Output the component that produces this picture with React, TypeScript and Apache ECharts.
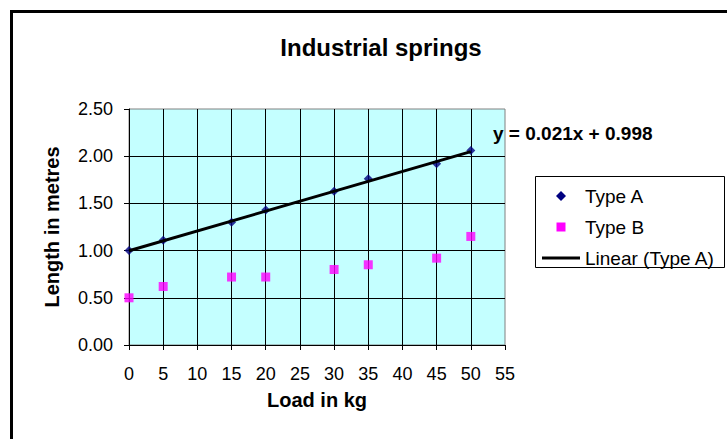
import React, { useEffect, useRef } from "react";
import * as echarts from "echarts";

const loadKg = [0, 5, 15, 20, 30, 35, 45, 50];
const typeA = [1.0, 1.11, 1.3, 1.43, 1.63, 1.76, 1.92, 2.06];
const typeB = [0.5, 0.62, 0.72, 0.72, 0.8, 0.85, 0.92, 1.15];
const trendX = [0, 50];
const trendY = [0.998, 2.048];
const equation = "y = 0.021x + 0.998";
const titleText = "Industrial springs";
const xTitle = "Load in kg";
const yTitle = "Length in metres";
const seriesNames = ["Type A", "Type B", "Linear (Type A)"];

const FONT = '"Liberation Sans", Arial, sans-serif';
const COLOR_A = "#000080";
const COLOR_B = "#FF00FF";

export default function App() {
  const ref = useRef<HTMLDivElement>(null);
  useEffect(() => {
    if (!ref.current) return;
    const chart = echarts.init(ref.current, undefined, { renderer: "svg" });
    const axisLine = { show: true, lineStyle: { color: "#000", width: 1 } };
    const legendX = 535;
    const legendY = 176;
    const rowY = [196, 227, 258];
    const iconCx = 561;
    const textX = 585;
    const legendText = (i: number) => ({
      type: "text",
      x: textX,
      y: rowY[i],
      style: {
        text: seriesNames[i],
        fontFamily: FONT,
        fontSize: 19,
        fill: "#000",
        verticalAlign: "middle",
      },
      z: 11,
    });
    chart.setOption({
      animation: false,
      backgroundColor: "#fff",
      textStyle: { fontFamily: FONT },
      title: {
        text: titleText,
        left: 376,
        top: 30,
        textAlign: "center",
        textStyle: { fontFamily: FONT, fontSize: 24, fontWeight: "bold", color: "#000" },
      },
      grid: {
        left: 129,
        top: 109,
        width: 376,
        height: 236,
        show: true,
        backgroundColor: "#C4FFFF",
        borderColor: "#808080",
        borderWidth: 1,
      },
      xAxis: {
        type: "value",
        min: 0,
        max: 55,
        interval: 5,
        name: xTitle,
        nameLocation: "middle",
        nameGap: 45,
        nameTextStyle: { fontFamily: FONT, fontSize: 20, fontWeight: "bold", color: "#000" },
        axisLine,
        axisTick: { show: true, inside: false, length: 5, lineStyle: { color: "#000" } },
        axisLabel: { fontFamily: FONT, fontSize: 18, color: "#000", margin: 20 },
        splitLine: { show: true, showMaxLine: false, lineStyle: { color: "#000", width: 1 } },
      },
      yAxis: {
        type: "value",
        min: 0,
        max: 2.5,
        interval: 0.5,
        name: yTitle,
        nameLocation: "middle",
        nameGap: 67,
        nameTextStyle: { fontFamily: FONT, fontSize: 20, fontWeight: "bold", color: "#000" },
        axisLine,
        axisTick: { show: true, inside: false, length: 5, lineStyle: { color: "#000" } },
        axisLabel: {
          fontFamily: FONT,
          fontSize: 18,
          color: "#000",
          margin: 16,
          formatter: (v: number) => v.toFixed(2),
        },
        splitLine: { show: true, showMaxLine: false, lineStyle: { color: "#000", width: 1 } },
      },
      series: [
        {
          name: seriesNames[2],
          type: "line",
          data: trendX.map((x, i) => [x, trendY[i]]),
          showSymbol: false,
          symbol: "none",
          lineStyle: { color: "#000", width: 3 },
          itemStyle: { color: "#000" },
          z: 3,
        },
        {
          name: seriesNames[0],
          type: "scatter",
          data: loadKg.map((x, i) => [x, typeA[i]]),
          symbol: "diamond",
          symbolSize: 9,
          itemStyle: { color: COLOR_A },
          z: 2,
        },
        {
          name: seriesNames[1],
          type: "scatter",
          data: loadKg.map((x, i) => [x, typeB[i]]),
          symbol: "rect",
          symbolSize: 9,
          itemStyle: { color: COLOR_B },
          z: 2,
        },
      ],
      graphic: [
        {
          type: "rect",
          shape: { x: 11.5, y: 11.5, width: 900, height: 600 },
          style: { fill: "none", stroke: "#000", lineWidth: 3 },
          silent: true,
          z: 10,
        },
        {
          type: "text",
          left: 493,
          top: 124,
          style: { text: equation, fontFamily: FONT, fontSize: 19, fontWeight: "bold", fill: "#000" },
          z: 10,
        },
        {
          type: "rect",
          shape: { x: legendX + 0.5, y: legendY + 0.5, width: 189, height: 91 },
          style: { fill: "#fff", stroke: "#000", lineWidth: 1 },
          z: 10,
        },
        {
          type: "polygon",
          shape: {
            points: [
              [iconCx, rowY[0] - 5],
              [iconCx + 5, rowY[0]],
              [iconCx, rowY[0] + 5],
              [iconCx - 5, rowY[0]],
            ],
          },
          style: { fill: COLOR_A },
          z: 11,
        },
        {
          type: "rect",
          shape: { x: iconCx - 4.5, y: rowY[1] - 4.5, width: 9, height: 9 },
          style: { fill: COLOR_B },
          z: 11,
        },
        {
          type: "line",
          shape: { x1: iconCx - 19, y1: rowY[2], x2: iconCx + 19, y2: rowY[2] },
          style: { stroke: "#000", lineWidth: 3 },
          z: 11,
        },
        legendText(0),
        legendText(1),
        legendText(2),
      ],
    });
    return () => chart.dispose();
  }, []);
  return (
    <div
      ref={ref}
      style={{ position: "absolute", left: 0, top: 0, width: 727, height: 439 }}
    />
  );
}
